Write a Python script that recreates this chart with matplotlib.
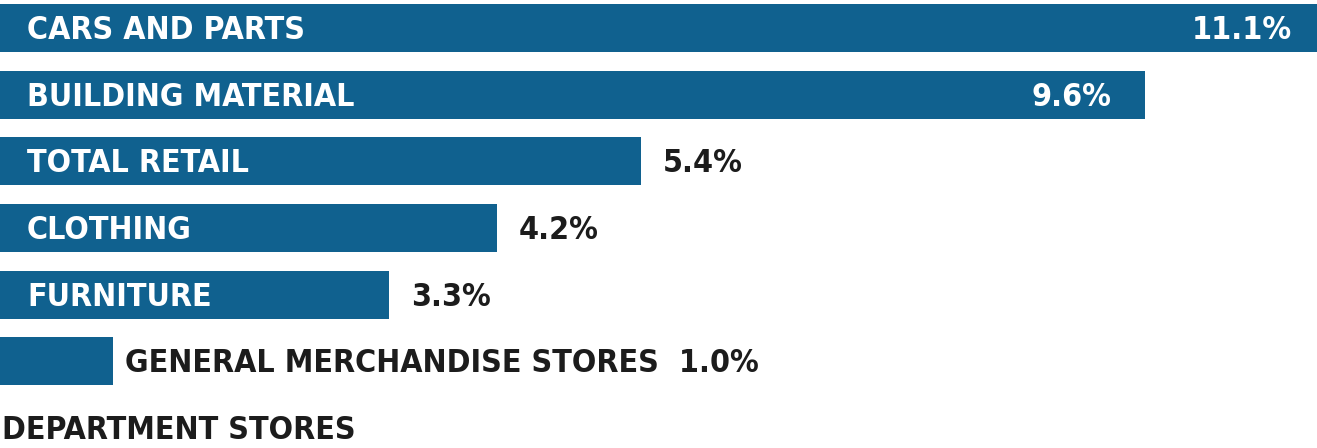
import matplotlib
matplotlib.use("Agg")
import matplotlib.pyplot as plt
from matplotlib import font_manager

# Year-over-year sales change by retail category (percent)
categories = [
    "CARS AND PARTS",
    "BUILDING MATERIAL",
    "TOTAL RETAIL",
    "CLOTHING",
    "FURNITURE",
    "GENERAL MERCHANDISE STORES",
    "DEPARTMENT STORES",
]
values = [11.1, 9.6, 5.4, 4.2, 3.3, 1.0, None]
value_labels = ["11.1%", "9.6%", "5.4%", "4.2%", "3.3%", "1.0%", ""]


def pick_font():
    """Find a bold, narrow sans face among the installed fonts."""
    prefs = [("Noto Sans", "condensed"), ("Open Sans", "condensed"),
             ("Noto Sans", "semi-condensed"), ("Open Sans", "semi-condensed"),
             ("DejaVu Sans", "condensed"), ("Liberation Sans Narrow", None)]
    entries = font_manager.fontManager.ttflist
    for fam, stretch in prefs:
        for f in entries:
            w = f.weight if isinstance(f.weight, int) else 700 if f.weight == "bold" else 400
            if f.name == fam and w == 700 and f.style == "normal" and (stretch is None or f.stretch == stretch):
                return font_manager.FontProperties(fname=f.fname)
    return font_manager.FontProperties(family="DejaVu Sans", weight="bold", stretch="condensed")


fp = pick_font()

BAR = "#10618f"
DARK = "#1c1c1c"
FS = 23
DY = 0.04  # nudge labels slightly below the bar centre line

fig = plt.figure(figsize=(13.17, 4.48), dpi=100)
ax = fig.add_axes([0, 0, 1, 1])
ax.set_xlim(0.058, 11.03)
ax.set_ylim(6.3, -0.42)
ax.axis("off")

unit_per_px = (11.03 - 0.058) / 1317


def label(x, y, s, color, ha="left"):
    ax.text(x, y + DY, s, ha=ha, va="center", fontproperties=fp, fontsize=FS, color=color)


for i, (name, v, lab) in enumerate(zip(categories, values, value_labels)):
    if v is None:
        label(0.058 + 2 * unit_per_px, i, name, DARK)
        continue
    ax.barh(i, v, height=0.72, color=BAR, left=0)
    if v >= 3.0:
        label(0.058 + 27 * unit_per_px, i, name, "white")
        if v >= 9.0:
            label(v - 34 * unit_per_px, i, lab, "white", ha="right")
        else:
            label(v + 22 * unit_per_px, i, lab, DARK)
    else:
        label(v + 12 * unit_per_px, i, name + "  " + lab, DARK)

fig.savefig("out.png", dpi=100, facecolor="white")
